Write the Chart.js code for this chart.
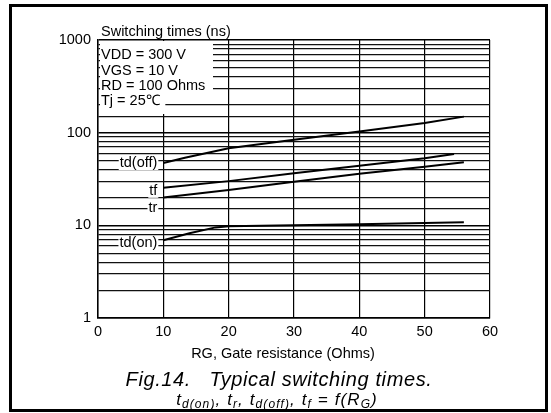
<!DOCTYPE html>
<html><head><meta charset="utf-8">
<script src="https://cdn.jsdelivr.net/npm/chart.js@4.4.1/dist/chart.umd.min.js"></script>
<style>
html,body{margin:0;padding:0;background:#fff;}
#wrap{position:relative;width:551px;height:413px;overflow:hidden;background:#fff;}
#c{position:absolute;left:0;top:0;}
#frame{position:absolute;left:9px;top:4px;width:539px;height:408px;box-sizing:border-box;border:3px solid #000;pointer-events:none;}
</style></head><body>
<div id="wrap"><canvas id="c" width="551" height="413"></canvas><div id="frame"></div></div>
<script>
// ---- data ----
const rgTicks = [0, 10, 20, 30, 40, 50, 60];
const timeDecades = [1, 10, 100, 1000];

const tdOffRG = [10, 13.3, 20, 30, 40, 50, 56];
const tdOffNs = [47, 53.5, 68, 84, 103, 127, 149];
const tfRG = [10, 20, 30, 40, 50, 54.5];
const tfNs = [25.4, 30, 36.5, 44, 53, 59];
const trRG = [10, 20, 30, 40, 50, 56];
const trNs = [20, 24, 29.5, 36, 43, 48];
const tdOnRG = [10, 14, 18, 20, 30, 40, 50, 56];
const tdOnNs = [6.9, 8.2, 9.5, 9.8, 10, 10.3, 10.6, 10.8];

const seriesLabels = ['td(off)', 'tf', 'tr', 'td(on)'];
const conditions = ['VDD = 300 V', 'VGS = 10 V', 'RD = 100 Ohms', 'Tj = 25\u2103'];
const yTitle = 'Switching times (ns)';
const xTitle = 'RG, Gate resistance (Ohms)';
const caption1 = 'Fig.14.   Typical switching times.';
const caption2 = [['t', 'd(on)'], [', t', 'r'], [', t', 'd(off)'], [', t', 'f'], [' = f(R', 'G'], [')', '']];

const FONT = '"Liberation Sans", Arial, Helvetica, sans-serif';
Chart.defaults.font.family = FONT;
Chart.defaults.color = '#000';

function pts(xs, ys) { return xs.map((x, i) => ({ x: x, y: ys[i] })); }
const seriesData = [pts(tdOffRG, tdOffNs), pts(tfRG, tfNs), pts(trRG, trNs), pts(tdOnRG, tdOnNs)];
const labelDy = [4, 7, 15, 7];

const textPlugin = {
  id: 'texts',
  beforeDatasetsDraw(chart) {
    const ctx = chart.ctx, a = chart.chartArea, xs = chart.scales.x, ys = chart.scales.y;
    ctx.save();
    ctx.fillStyle = '#fff';
    ctx.fillRect(a.left + 2, a.top + 1, 113, 54);
    ctx.fillRect(a.left + 2, a.top + 55, xs.getPixelForValue(10) + 2 - a.left - 2, 19);
    ctx.font = '14.5px ' + FONT;
    ctx.fillStyle = '#000';
    ctx.textAlign = 'left';
    ctx.textBaseline = 'alphabetic';
    const base = [19, 35, 50, 65];
    conditions.forEach((t, i) => ctx.fillText(t, a.left + 3, a.top + base[i]));
    ctx.textAlign = 'right';
    const xr = xs.getPixelForValue(10) - 6;
    seriesLabels.forEach((t, i) => {
      const p = seriesData[i][0];
      const yb = ys.getPixelForValue(p.y) + labelDy[i];
      const w = ctx.measureText(t).width;
      ctx.fillStyle = '#fff';
      ctx.fillRect(xr - w - 1, yb - 11, w + 2, 14);
      ctx.fillStyle = '#000';
      ctx.fillText(t, xr, yb);
    });
    ctx.restore();
  },
  afterDraw(chart) {
    const ctx = chart.ctx, a = chart.chartArea;
    ctx.save();
    ctx.fillStyle = '#000';
    ctx.textBaseline = 'alphabetic';
    ctx.font = '14.5px ' + FONT;
    ctx.textAlign = 'left';
    ctx.fillText(yTitle, a.left + 3, a.top - 4);
    ctx.textAlign = 'center';
    ctx.fillText(xTitle, 283, 358);
    ctx.font = 'italic 20px ' + FONT;
    try { ctx.letterSpacing = '0.6px'; } catch (e) {}
    ctx.fillText(caption1, 279, 386);
    try { ctx.letterSpacing = '1.1px'; } catch (e) {}
    ctx.textAlign = 'left';
    const mainF = 'italic 17px ' + FONT, subF = 'italic 12px ' + FONT;
    let total = 0;
    caption2.forEach(([m, s]) => {
      ctx.font = mainF; total += ctx.measureText(m).width;
      ctx.font = subF; total += s ? ctx.measureText(s).width : 0;
    });
    let x = 277 - total / 2;
    caption2.forEach(([m, s]) => {
      ctx.font = mainF; ctx.fillText(m, x, 405); x += ctx.measureText(m).width;
      if (s) { ctx.font = subF; ctx.fillText(s, x, 408); x += ctx.measureText(s).width; }
    });
    try { ctx.letterSpacing = '0px'; } catch (e) {}
    ctx.restore();
  }
};

new Chart(document.getElementById('c'), {
  type: 'line',
  data: {
    datasets: seriesLabels.map((lab, i) => ({
      label: lab,
      data: seriesData[i],
      borderColor: '#000',
      borderWidth: 2,
      pointRadius: 0,
      fill: false,
      tension: 0
    }))
  },
  options: {
    responsive: false,
    animation: false,
    devicePixelRatio: 1,
    layout: { padding: { left: 0, right: 61, top: 40, bottom: 47 } },
    plugins: { legend: { display: false }, tooltip: { enabled: false }, title: { display: false } },
    scales: {
      x: {
        type: 'linear', min: 0, max: 60,
        afterBuildTicks: s => { s.ticks = rgTicks.map(v => ({ value: v })); },
        afterFit: s => { s.height = 48; },
        grid: { color: '#000', lineWidth: 1.2, drawTicks: false },
        border: { color: '#000', width: 1.5 },
        ticks: { padding: 5, color: '#000', font: { size: 14.5 }, maxRotation: 0, autoSkip: false }
      },
      y: {
        type: 'logarithmic', min: 1, max: 1000,
        afterFit: s => { s.width = 98; },
        grid: {
          drawTicks: false,
          color: c => timeDecades.includes(c.tick.value) ? '#000' : '#111',
          lineWidth: c => timeDecades.includes(c.tick.value) ? 1.5 : 1.2
        },
        border: { color: '#000', width: 1.5 },
        ticks: {
          autoSkip: false, padding: 7, color: '#000', font: { size: 14.5 },
          callback: v => timeDecades.includes(v) ? String(v) : ''
        }
      }
    }
  },
  plugins: [textPlugin]
});
</script>
</body></html>
